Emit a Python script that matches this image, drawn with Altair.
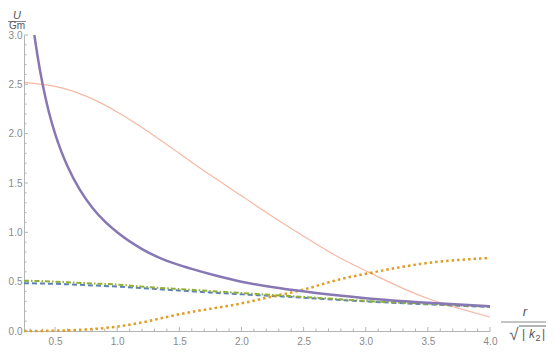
import altair as alt
import pandas as pd

# ---- data ----
r_grid = [0.25, 0.5, 0.75, 1.0, 1.25, 1.5, 1.75, 2.0, 2.25, 2.5, 2.75, 3.0, 3.25, 3.5, 3.75, 4.0]
salmon_vals = [2.52, 2.48, 2.38, 2.22, 2.02, 1.80, 1.58, 1.37, 1.16, 0.96, 0.77, 0.61, 0.46, 0.33, 0.23, 0.14]
orange_vals = [0.0, 0.003, 0.015, 0.045, 0.10, 0.17, 0.225, 0.28, 0.35, 0.42, 0.51, 0.58, 0.64, 0.69, 0.72, 0.74]
green_vals = [0.51, 0.50, 0.485, 0.47, 0.445, 0.425, 0.405, 0.385, 0.365, 0.345, 0.325, 0.305, 0.29, 0.275, 0.26, 0.248]
blue_vals = [0.485, 0.478, 0.465, 0.45, 0.43, 0.41, 0.39, 0.372, 0.355, 0.337, 0.318, 0.30, 0.284, 0.27, 0.256, 0.243]

purple_r = [0.333, 0.36, 0.4, 0.45, 0.5, 0.55, 0.6, 0.7, 0.8, 0.9, 1.0, 1.2, 1.4, 1.6, 1.8, 2.0, 2.3, 2.6, 3.0, 3.5, 4.0]
purple_vals = [3.0, 2.78, 2.5, 2.22, 2.0, 1.82, 1.67, 1.43, 1.25, 1.11, 1.0, 0.83, 0.71, 0.63, 0.56, 0.5, 0.435, 0.385, 0.333, 0.286, 0.25]

x_label_values = [0.5, 1.0, 1.5, 2.0, 2.5, 3.0, 3.5, 4.0]
y_label_values = [0.0, 0.5, 1.0, 1.5, 2.0, 2.5, 3.0]
x_minor_ticks = [round(0.3 + 0.1 * i, 1) for i in range(38) if round(0.3 + 0.1 * i, 1) not in x_label_values]
y_minor_ticks = [round(0.1 * i, 1) for i in range(31) if round(0.1 * i, 1) not in y_label_values]

W, H = 466, 296
GRAY = "#b4b4b4"
LABEL = "#8a8a8a"
FONT = "Liberation Sans"

XS = alt.Scale(domain=[0.25, 4.0], nice=False, zero=False)
YS = alt.Scale(domain=[0.0, 3.0], nice=False, zero=False)
XAX = alt.Axis(title=None, values=x_label_values, format=".1f", ticks=False, grid=False,
               domainColor=GRAY, labelColor=LABEL, labelFont=FONT, labelFontSize=10,
               labelPadding=5, labelFlush=False)
YAX = alt.Axis(title=None, values=y_label_values, format=".1f", ticks=False, grid=False,
               domainColor=GRAY, labelColor=LABEL, labelFont=FONT, labelFontSize=10,
               labelPadding=2, labelFlush=False)


def X(f):
    return alt.X(f, type="quantitative", scale=XS, axis=XAX)


def Y(f):
    return alt.Y(f, type="quantitative", scale=YS, axis=YAX)


def series(rs, vs, interp="natural", **style):
    df = pd.DataFrame({"r": rs, "u": vs})
    return alt.Chart(df).mark_line(interpolate=interp, **style).encode(x=X("r"), y=Y("u"))


blue = series(r_grid, blue_vals, color="#5E81B5", strokeWidth=2, strokeDash=[5, 3])
orange = series(r_grid, orange_vals, color="#E19C24", strokeWidth=2.5, strokeDash=[2.5, 3])
green = series(r_grid, green_vals, color="#8FB032", strokeWidth=2, strokeDash=[5, 2, 1.5, 2])
salmon = series(r_grid, salmon_vals, color="#EB6235", strokeWidth=1.2, opacity=0.45)
purple = series(purple_r, purple_vals, interp="monotone", color="#8778B3", strokeWidth=2.5)

# inward ticks
xmaj = alt.Chart(pd.DataFrame({"v": x_label_values})).mark_rule(color=GRAY).encode(
    x=X("v"), y=alt.value(H), y2=alt.value(H - 4))
xmin = alt.Chart(pd.DataFrame({"v": x_minor_ticks})).mark_rule(color=GRAY).encode(
    x=X("v"), y=alt.value(H), y2=alt.value(H - 2.5))
ymaj = alt.Chart(pd.DataFrame({"v": y_label_values})).mark_rule(color=GRAY).encode(
    y=Y("v"), x=alt.value(0), x2=alt.value(4))
ymin = alt.Chart(pd.DataFrame({"v": y_minor_ticks})).mark_rule(color=GRAY).encode(
    y=Y("v"), x=alt.value(0), x2=alt.value(2.5))

# axis titles (fractions)
one = pd.DataFrame({"a": [0]})


def txt(s, x, y, size=12, italic=False, color="#555555", align="center"):
    return alt.Chart(one).mark_text(text=s, font=FONT, fontSize=size, color=color, align=align,
                                    baseline="alphabetic",
                                    fontStyle="italic" if italic else "normal").encode(
        x=alt.value(x), y=alt.value(y))


def hline(x1, x2, y, color="#888888", w=1):
    return alt.Chart(one).mark_rule(color=color, strokeWidth=w).encode(
        x=alt.value(x1), x2=alt.value(x2), y=alt.value(y))


ytitle = [txt("U", -7, -16, 11, italic=True), hline(-16, 2, -13.5), txt("Gm", -7, -6.5, 10)]
xtitle = [txt("r", 501, 281, 13, italic=True), hline(477, 523, 287),
          txt("√", 490, 305, 17, color="#666666"), hline(495, 523, 291, color="#666666"),
          txt("|", 498, 303, 12, align="left"),
          txt("k", 505, 303, 12, italic=True, align="left"),
          txt("2", 511.5, 306, 9, align="left"),
          txt("|", 518, 303, 12, align="left")]

chart = alt.layer(
    xmin, xmaj, ymin, ymaj, blue, orange, green, salmon, purple, *ytitle, *xtitle
).properties(
    width=W, height=H,
    background="white",
    autosize=alt.AutoSizeParams(type="none"),
    padding={"left": 16, "top": 27, "right": 56, "bottom": 14},
).configure_view(strokeWidth=0, stroke="transparent")

chart.save("out.html", embed_options={"renderer": "svg", "actions": False})
